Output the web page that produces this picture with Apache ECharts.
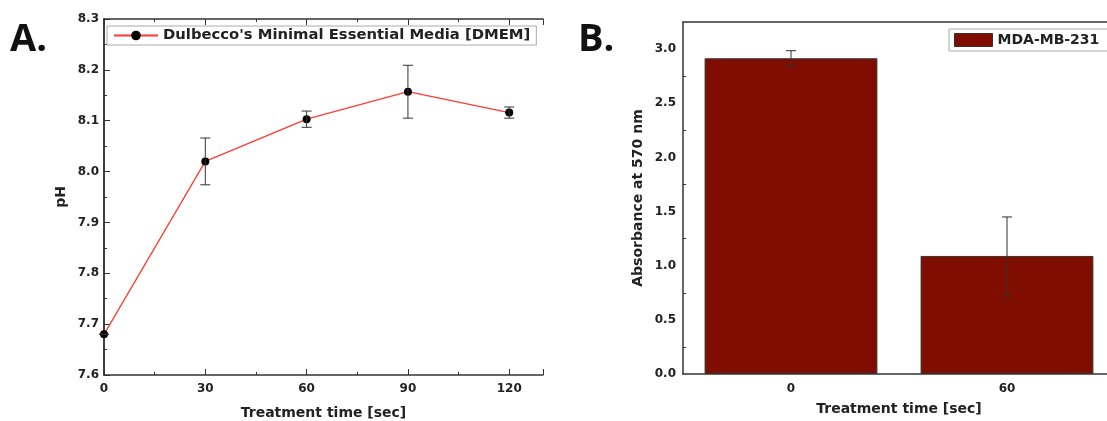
<!DOCTYPE html>
<html>
<head>
<meta charset="utf-8">
<script src="https://cdn.jsdelivr.net/npm/echarts@6/dist/echarts.min.js"></script>
<style>
  html, body { margin: 0; padding: 0; background: #fff; }
  #chart { width: 1107px; height: 421px; }
</style>
</head>
<body>
<div id="chart"></div>
<script>
// panel A: pH vs treatment time
const timeA = [0, 30, 60, 90, 120]
const phValues = [7.68, 8.02, 8.103, 8.157, 8.116]
const phErrors = [0, 0.046, 0.016, 0.052, 0.011]

// panel B: absorbance bars
const timeB = ['0', '60']
const absValues = [2.915, 1.09]
const absErrors = [0.07, 0.36]

const nameA = "Dulbecco's Minimal Essential Media [DMEM]"
const nameB = 'MDA-MB-231'

const font = 'DejaVu Sans, sans-serif'
const axisColor = '#333'
const labelStyle = { fontFamily: font, fontWeight: 'bold', fontSize: 12, color: '#222' }
const titleStyle = { fontFamily: font, fontWeight: 'bold', fontSize: 14, color: '#222' }

// error bar drawn through the axis scales
function errorBar(params, api) {
  const x = api.value(0)
  const top = api.coord([x, api.value(2)])
  const bot = api.coord([x, api.value(1)])
  const hw = 5
  const style = { stroke: '#333', lineWidth: 1 }
  return {
    type: 'group',
    children: [
      { type: 'line', shape: { x1: top[0], y1: top[1], x2: bot[0], y2: bot[1] }, style },
      { type: 'line', shape: { x1: top[0] - hw, y1: top[1], x2: top[0] + hw, y2: top[1] }, style },
      { type: 'line', shape: { x1: bot[0] - hw, y1: bot[1], x2: bot[0] + hw, y2: bot[1] }, style }
    ]
  }
}

const errA = timeA.map((t, i) => [t, phValues[i] - phErrors[i], phValues[i] + phErrors[i]])
const errB = timeB.map((t, i) => [i, absValues[i] - absErrors[i], absValues[i] + absErrors[i]])

const myChart = echarts.init(document.getElementById('chart'))
myChart.setOption({
  animation: false,
  graphic: [
    { type: 'text', left: 10, top: 21, style: { text: 'A.', font: 'bold 38px "Open Sans", sans-serif', fill: '#111' } },
    { type: 'text', left: 578, top: 21, style: { text: 'B.', font: 'bold 38px "Open Sans", sans-serif', fill: '#111' } }
  ],
  legend: [
    {
      data: [nameA], left: 107, top: 26,
      borderColor: '#aaa', borderWidth: 1, padding: [2, 6, 2, 6],
      itemWidth: 44, itemHeight: 12, textStyle: { ...titleStyle, fontSize: 14.8 }
    },
    {
      data: [nameB], left: 949, top: 29, icon: 'rect',
      borderColor: '#aaa', borderWidth: 1, padding: [4, 12, 4, 5],
      itemWidth: 38, itemHeight: 13, textStyle: titleStyle,
      itemStyle: { borderColor: '#333', borderWidth: 1 }
    }
  ],
  grid: [
    { left: 104, top: 19, width: 439, height: 356, outerBoundsMode: 'none' },
    { left: 683, top: 22, width: 432, bottom: 47, outerBoundsMode: 'none' }
  ],
  xAxis: [
    {
      type: 'value', gridIndex: 0, min: 0, max: 130, interval: 30,
      name: 'Treatment time [sec]', nameLocation: 'middle', nameGap: 31, nameTextStyle: titleStyle,
      axisLine: { lineStyle: { color: axisColor, width: 1.5 } },
      axisTick: { inside: true, length: 6, lineStyle: { color: axisColor } },
      minorTick: { show: true, splitNumber: 2, length: 3, lineStyle: { color: axisColor } },
      axisLabel: { ...labelStyle, margin: 8, formatter: v => (v % 30 === 0 ? String(v) : '') },
      splitLine: { show: false }
    },
    {
      type: 'value', gridIndex: 0, position: 'top', min: 0, max: 130, interval: 30,
      axisLine: { show: true, lineStyle: { color: axisColor, width: 1.5 } },
      axisTick: { inside: true, length: 6, lineStyle: { color: axisColor } },
      minorTick: { show: true, splitNumber: 2, length: 3, lineStyle: { color: axisColor } },
      axisLabel: { show: false }, splitLine: { show: false }
    },
    {
      type: 'category', gridIndex: 1, data: timeB,
      name: 'Treatment time [sec]', nameLocation: 'middle', nameGap: 28, nameTextStyle: titleStyle,
      axisLine: { lineStyle: { color: axisColor, width: 1.5 } },
      axisTick: { inside: true, alignWithLabel: true, length: 6, lineStyle: { color: axisColor } },
      axisLabel: { ...labelStyle, margin: 9 },
      splitLine: { show: false }
    },
    {
      type: 'category', gridIndex: 1, data: timeB, position: 'bottom',
      axisLine: { show: false },
      axisTick: { inside: true, length: 3, lineStyle: { color: axisColor } },
      axisLabel: { show: false }, splitLine: { show: false }
    },
    {
      type: 'category', gridIndex: 1, data: timeB, position: 'top',
      axisLine: { show: true, lineStyle: { color: axisColor, width: 1.5 } },
      axisTick: { show: false }, axisLabel: { show: false }, splitLine: { show: false }
    }
  ],
  yAxis: [
    {
      type: 'value', gridIndex: 0, min: 7.6, max: 8.3, interval: 0.1,
      name: 'pH', nameLocation: 'middle', nameGap: 36, nameTextStyle: titleStyle,
      axisLine: { show: true, lineStyle: { color: axisColor, width: 1.5 } },
      axisTick: { inside: true, length: 6, lineStyle: { color: axisColor } },
      minorTick: { show: true, splitNumber: 2, length: 3, lineStyle: { color: axisColor } },
      axisLabel: { ...labelStyle, margin: 5, formatter: v => v.toFixed(1) },
      splitLine: { show: false }
    },
    {
      type: 'value', gridIndex: 0, position: 'right', min: 7.6, max: 8.3, interval: 0.1,
      axisLine: { show: true, lineStyle: { color: axisColor, width: 1.5 } },
      axisTick: { show: false }, axisLabel: { show: false }, splitLine: { show: false }
    },
    {
      type: 'value', gridIndex: 1, min: 0, max: 3.25, interval: 0.5,
      name: 'Absorbance at 570 nm', nameLocation: 'middle', nameGap: 38, nameTextStyle: titleStyle,
      axisLine: { show: true, lineStyle: { color: axisColor, width: 1.5 } },
      axisTick: { inside: true, length: 6, lineStyle: { color: axisColor } },
      minorTick: { show: true, splitNumber: 2, length: 3, lineStyle: { color: axisColor } },
      axisLabel: { ...labelStyle, margin: 7, formatter: v => (v > 3.1 ? '' : v.toFixed(1)) },
      splitLine: { show: false }
    }
  ],
  series: [
    {
      name: nameA, type: 'line', xAxisIndex: 0, yAxisIndex: 0,
      data: timeA.map((t, i) => [t, phValues[i]]),
      symbol: 'circle', symbolSize: 8,
      lineStyle: { color: '#ff3b30', width: 1.3 },
      itemStyle: { color: '#000' },
      clip: false, z: 3
    },
    {
      type: 'custom', xAxisIndex: 0, yAxisIndex: 0, data: errA,
      renderItem: errorBar, z: 4, silent: true
    },
    {
      name: nameB, type: 'bar', xAxisIndex: 2, yAxisIndex: 2,
      data: absValues, barWidth: '80%',
      itemStyle: { color: '#800e00', borderColor: '#333', borderWidth: 1 }
    },
    {
      type: 'custom', xAxisIndex: 2, yAxisIndex: 2, data: errB,
      renderItem: errorBar, z: 4, silent: true
    }
  ]
})
</script>
</body>
</html>
